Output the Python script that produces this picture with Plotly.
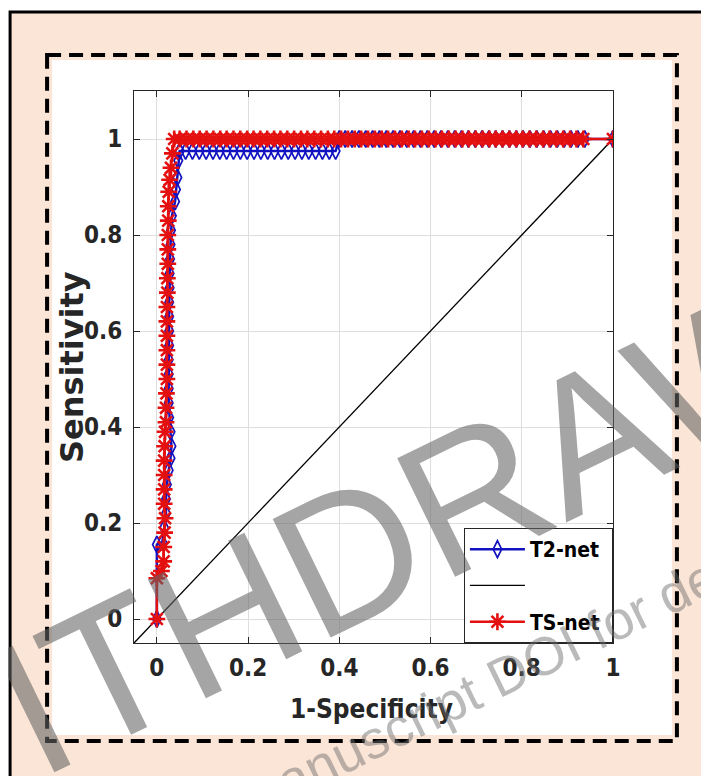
import plotly.graph_objects as go

# ---------------- data ----------------
t2_fpr = [0, 0, 0.012, 0.016, 0.02, 0.02, 0.022, 0.026, 0.030, 0.032, 0.030, 0.027,
          0.026, 0.026, 0.026, 0.026, 0.027, 0.027, 0.027, 0.027, 0.028, 0.028, 0.029,
          0.030, 0.031, 0.033, 0.040, 0.042, 0.045, 0.047, 0.050,
          0.063, 0.078, 0.093, 0.108, 0.123, 0.138, 0.153, 0.168, 0.183, 0.198, 0.213,
          0.228, 0.243, 0.258, 0.273, 0.288, 0.303, 0.318, 0.333, 0.348, 0.363, 0.378,
          0.392, 0.400,
          0.413, 0.428, 0.443, 0.458, 0.473, 0.488, 0.503, 0.518, 0.533, 0.548, 0.563,
          0.578, 0.593, 0.608, 0.623, 0.638, 0.653, 0.668, 0.683, 0.698, 0.713, 0.728,
          0.743, 0.758, 0.773, 0.788, 0.803, 0.818, 0.833, 0.848, 0.863, 0.878, 0.893,
          0.908, 0.923, 0.938, 1.0]
t2_tpr = [0, 0.155, 0.16, 0.19, 0.22, 0.25, 0.28, 0.31, 0.335, 0.36, 0.39, 0.42,
          0.45, 0.48, 0.51, 0.54, 0.57, 0.60, 0.63, 0.66, 0.69, 0.72, 0.75,
          0.78, 0.81, 0.84, 0.87, 0.895, 0.92, 0.955, 0.975,
          0.975, 0.975, 0.975, 0.975, 0.975, 0.975, 0.975, 0.975, 0.975, 0.975, 0.975,
          0.975, 0.975, 0.975, 0.975, 0.975, 0.975, 0.975, 0.975, 0.975, 0.975, 0.975,
          0.975, 1.0,
          1.0, 1.0, 1.0, 1.0, 1.0, 1.0, 1.0, 1.0, 1.0, 1.0, 1.0,
          1.0, 1.0, 1.0, 1.0, 1.0, 1.0, 1.0, 1.0, 1.0, 1.0, 1.0,
          1.0, 1.0, 1.0, 1.0, 1.0, 1.0, 1.0, 1.0, 1.0, 1.0, 1.0,
          1.0, 1.0, 1.0, 1.0]

ts_fpr = [0, 0, 0.010, 0.015, 0.015, 0.017, 0.018, 0.016, 0.016, 0.016, 0.016, 0.017,
          0.018, 0.020, 0.020, 0.021, 0.022, 0.022, 0.022, 0.022, 0.022, 0.022, 0.023,
          0.023, 0.024, 0.024, 0.024, 0.025, 0.025, 0.026, 0.028, 0.031, 0.034, 0.038,
          0.050, 0.065, 0.080, 0.094, 0.109, 0.124, 0.139, 0.153, 0.168, 0.183, 0.198,
          0.212, 0.227, 0.242, 0.257, 0.271, 0.286, 0.301, 0.316, 0.330, 0.345, 0.360,
          0.375, 0.389, 0.404, 0.419, 0.434, 0.448, 0.463, 0.478, 0.493, 0.507, 0.522,
          0.537, 0.552, 0.566, 0.581, 0.596, 0.611, 0.625, 0.640, 0.655, 0.670, 0.684,
          0.699, 0.714, 0.729, 0.743, 0.758, 0.773, 0.788, 0.802, 0.817, 0.832, 0.847,
          0.861, 0.876, 0.891, 0.906, 0.920, 0.935, 1.0]
ts_tpr = [0, 0.085, 0.10, 0.12, 0.15, 0.18, 0.21, 0.24, 0.27, 0.30, 0.33, 0.36,
          0.39, 0.41, 0.44, 0.47, 0.50, 0.53, 0.56, 0.59, 0.62, 0.65, 0.68,
          0.71, 0.74, 0.77, 0.80, 0.83, 0.86, 0.89, 0.915, 0.94, 0.97, 1.0,
          1.0, 1.0, 1.0, 1.0, 1.0, 1.0, 1.0, 1.0, 1.0, 1.0, 1.0,
          1.0, 1.0, 1.0, 1.0, 1.0, 1.0, 1.0, 1.0, 1.0, 1.0, 1.0,
          1.0, 1.0, 1.0, 1.0, 1.0, 1.0, 1.0, 1.0, 1.0, 1.0, 1.0,
          1.0, 1.0, 1.0, 1.0, 1.0, 1.0, 1.0, 1.0, 1.0, 1.0, 1.0,
          1.0, 1.0, 1.0, 1.0, 1.0, 1.0, 1.0, 1.0, 1.0, 1.0, 1.0,
          1.0, 1.0, 1.0, 1.0, 1.0, 1.0, 1.0]

diag_x = [-0.05, 1.0]
diag_y = [-0.05, 1.0]

series_names = ["T2-net&nbsp;", "", "TS-net&nbsp;"]
tick_vals = [0, 0.2, 0.4, 0.6, 0.8, 1]
tick_text = ["0", "0.2", "0.4", "0.6", "0.8", "1"]
x_title = "1-Specificity"
y_title = "Sensitivity"
watermark = "WITHDRAWN"
watermark_sub = "see manuscript DOI for details"

# ---------------- layout helpers ----------------
# the page body has an 8px margin; the captured page is 717px wide and is
# shown 709px wide, so horizontal positions are compensated for that
OFF = 8
W, H = 709 - OFF, 776 - OFF
SX = 717.0 / 709.0
def px(x):
    return (x * SX - OFF) / W
def py(y):
    return 1 - (y - OFF) / H

INK = "#262626"
TICKFONT = dict(family="DejaVu Sans Condensed", size=24, color=INK, weight="bold")

fig = go.Figure()
fig.add_trace(go.Scatter(
    x=t2_fpr, y=t2_tpr, name=series_names[0], mode="lines+markers",
    line=dict(color="#1212c0", width=2.5),
    marker=dict(symbol="diamond-tall-open", size=12, color="#1212c0",
                line=dict(width=1.7, color="#1212c0")),
    legendgroup="a"))
fig.add_trace(go.Scatter(
    x=diag_x, y=diag_y, name=series_names[1], mode="lines",
    line=dict(color="black", width=1.3), legendgroup="b"))
fig.add_trace(go.Scatter(
    x=ts_fpr, y=ts_tpr, name=series_names[2], mode="lines+markers",
    line=dict(color="#e41010", width=2.5),
    marker=dict(symbol="asterisk-open", size=14, color="#e41010",
                line=dict(width=2.6, color="#e41010")),
    legendgroup="c"))

axis_common = dict(
    tickvals=tick_vals, ticktext=tick_text, showgrid=True, gridcolor="#dedede",
    gridwidth=1, zeroline=False, showline=True, linecolor=INK, linewidth=1.2,
    mirror="allticks", ticks="inside", ticklen=6, tickcolor=INK, tickwidth=1,
    tickfont=TICKFONT)

fig.update_layout(
    width=W, height=H, autosize=False,
    margin=dict(l=0, r=0, t=0, b=0),
    paper_bgcolor="white", plot_bgcolor="white",
    xaxis=dict(range=[-0.05, 1.0], domain=[px(134), px(613)],
               ticklabelstandoff=3, **axis_common),
    yaxis=dict(range=[-0.05, 1.1], domain=[py(643), py(91)],
               ticklabelstandoff=6, **axis_common),
    showlegend=True,
    legend=dict(x=px(613), y=py(643), xanchor="right", yanchor="bottom",
                bgcolor="white", bordercolor=INK, borderwidth=1,
                font=dict(family="DejaVu Sans Condensed", size=21, color="black",
                          weight="bold"),
                itemwidth=55, tracegroupgap=6, traceorder="grouped"),
)

shapes = [
    dict(type="rect", xref="paper", yref="paper", x0=px(10), y0=py(12), x1=1.1, y1=-0.1,
         fillcolor="#FBE5D6", line=dict(color="black", width=3), layer="below"),
    dict(type="rect", xref="paper", yref="paper", x0=px(52), y0=py(60), x1=px(672), y1=py(735),
         fillcolor="white", line=dict(width=0), layer="below"),
    dict(type="rect", xref="paper", yref="paper", x0=px(47), y0=py(55), x1=px(677), y1=py(741),
         fillcolor="rgba(0,0,0,0)", line=dict(color="black", width=4, dash="14px,8px"),
         layer="below"),
]
fig.update_layout(shapes=shapes)

annotations = [
    dict(text=x_title, xref="paper", yref="paper", x=px(372), y=py(709),
         showarrow=False, xanchor="center", yanchor="middle",
         font=dict(family="DejaVu Sans Condensed", size=26, color=INK, weight="bold")),
    dict(text=y_title, xref="paper", yref="paper", x=px(72), y=py(367),
         showarrow=False, xanchor="center", yanchor="middle", textangle=-90,
         font=dict(family="DejaVu Sans", size=32, color=INK, weight="bold")),
    dict(text=watermark, xref="paper", yref="paper", x=px(390), y=py(534),
         showarrow=False, xanchor="center", yanchor="middle", textangle=-26,
         font=dict(family="Liberation Sans", size=192, color="rgba(100,100,100,0.58)")),
    dict(text=watermark_sub, xref="paper", yref="paper", x=px(474), y=py(690),
         showarrow=False, xanchor="center", yanchor="middle", textangle=-26,
         font=dict(family="Liberation Sans", size=54, color="rgba(110,110,110,0.48)")),
]
fig.update_layout(annotations=annotations)

fig.write_html("out.html")
